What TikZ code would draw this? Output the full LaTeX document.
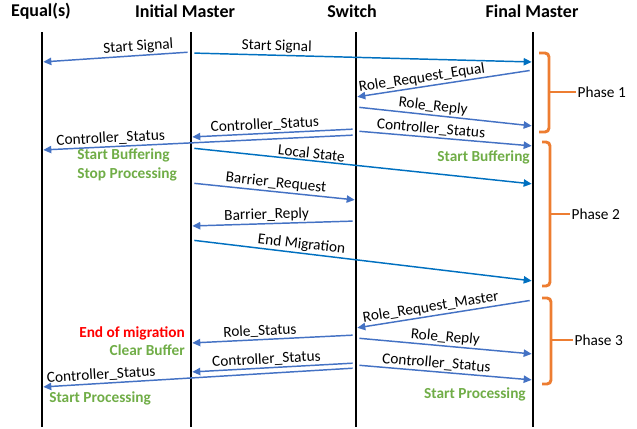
\documentclass[tikz,border=0pt]{standalone}
\usepackage{fontspec}
\setmainfont{Carlito}
\usetikzlibrary{arrows.meta, positioning, calc}
\definecolor{msgblue}{HTML}{4472C4}
\definecolor{darkblue}{HTML}{0070C0}
\definecolor{notegreen}{HTML}{70AD47}
\definecolor{phaseorange}{HTML}{ED7D31}
\tikzstyle{head} = [font=\fontsize{13.5}{16}\selectfont\bfseries]
\tikzstyle{lifeline} = [line width=2.2pt, black]
\tikzstyle{msg} = [line width=1.1pt, -{Triangle[length=6pt,width=5.5pt]}, msgblue, shorten <=2.5pt, shorten >=1pt]
\tikzstyle{msgdark} = [msg, darkblue]
\tikzstyle{lbl} = [font=\fontsize{11.5}{13}\selectfont, text=black, sloped, above=-1pt, inner sep=2pt]
\tikzstyle{note} = [font=\fontsize{11.5}{13}\selectfont\bfseries, text=notegreen, inner sep=0pt]
\tikzstyle{phase} = [line width=2.2pt, phaseorange, rounded corners=3pt]
\tikzstyle{phaselbl} = [font=\fontsize{11.5}{13}\selectfont, anchor=west, inner sep=1pt]

\begin{document}
\begin{tikzpicture}[x=0.75pt, y=-0.75pt]
	\useasboundingbox (0,0) rectangle (637,429);

	% Headers
	\node (h_eq) [head] at (41,11) {Equal(s)};
	\node (h_im) [head] at (185,11) {Initial Master};
	\node (h_sw) [head] at (352,11) {Switch};
	\node (h_fm) [head] at (532,11) {Final Master};

	% Lifelines
	\coordinate (eq) at (42,32);
	\coordinate (im) at (191,32);
	\coordinate (sw) at (356,32);
	\coordinate (fm) at (533,32);
	\draw[lifeline] (eq) -- (eq |- 0,427);
	\draw[lifeline] (im) -- (im |- 0,427);
	\draw[lifeline] (sw) -- (sw |- 0,427);
	\draw[lifeline] (fm) -- (fm |- 0,427);

	% Phase 1
	\draw[msg] (im |- 0,52) -- node[lbl, pos=0.35] {Start Signal} (eq |- 0,62);
	\draw[msgdark] (im |- 0,53) -- node[lbl, pos=0.25] {Start Signal} (fm |- 0,62);
	\draw[msg] (fm |- 0,70) -- node[lbl, pos=0.62] {Role\_Request\_Equal} (sw |- 0,97);
	\draw[msg] (sw |- 0,107) -- node[lbl, pos=0.43] {Role\_Reply} (fm |- 0,126);
	\draw[msg] (sw |- 0,129) -- node[lbl, pos=0.55] {Controller\_Status} (im |- 0,137);
	\draw[msg] (sw |- 0,131) -- node[lbl, pos=0.42] {Controller\_Status} (fm |- 0,146);
	\draw[msg] (sw |- 0,135) -- node[lbl, pos=0.78] {Controller\_Status} (eq |- 0,150);

	% Phase 2
	\node (buf_eq) [note, anchor=west] at (77,155) {Start Buffering};
	\node (stop_eq) [note, anchor=west] at (77,174) {Stop Processing};
	\node (buf_fm) [note, anchor=east] at (530,157) {Start Buffering};
	\draw[msgdark] (im |- 0,148) -- node[lbl, pos=0.35] {Local State} (fm |- 0,184);
	\draw[msg] (im |- 0,183) -- node[lbl, pos=0.51] {Barrier\_Request} (sw |- 0,200);
	\draw[msg] (sw |- 0,221) -- node[lbl, pos=0.54] {Barrier\_Reply} (im |- 0,226);
	\draw[msgdark] (im |- 0,240) -- node[lbl, pos=0.32] {End Migration} (fm |- 0,281);

	% Phase 3
	\draw[msg] (fm |- 0,300) -- node[lbl, pos=0.57] {Role\_Request\_Master} (sw |- 0,328);
	\draw[msg] (sw |- 0,335) -- node[lbl, pos=0.58] {Role\_Status} (im |- 0,343);
	\draw[msg] (sw |- 0,338) -- node[lbl, pos=0.5] {Role\_Reply} (fm |- 0,354);
	\draw[msg] (sw |- 0,363) -- node[lbl, pos=0.54] {Controller\_Status} (im |- 0,372);
	\draw[msg] (sw |- 0,368) -- node[lbl, pos=0.81] {Controller\_Status} (eq |- 0,387);
	\draw[msg] (sw |- 0,365) -- node[lbl, pos=0.45] {Controller\_Status} (fm |- 0,380);
	\node (end_im) [note, anchor=east, text=red] at (185,333) {End of migration};
	\node (clear_im) [note, anchor=east] at (185,350) {Clear Buffer};
	\node (proc_eq) [note, anchor=west] at (49,398) {Start Processing};
	\node (proc_fm) [note, anchor=east] at (526,394) {Start Processing};

	% Phase brackets
	\node (ph1) [phaselbl] at (576,92) {Phase 1};
	\node (ph2) [phaselbl] at (570,214) {Phase 2};
	\node (ph3) [phaselbl] at (573,340) {Phase 3};
	\draw[phase] (539,53) -- (549,53) -- (549,132) -- (539,132);
	\draw[phase] (549,92) -- (ph1.west);
	\draw[phase] (542,142) -- (550,142) -- (550,286) -- (542,286);
	\draw[phase] (550,214) -- (ph2.west);
	\draw[phase] (542,298) -- (551,298) -- (551,384) -- (542,384);
	\draw[phase] (551,340) -- (ph3.west);

\end{tikzpicture}
\end{document}
